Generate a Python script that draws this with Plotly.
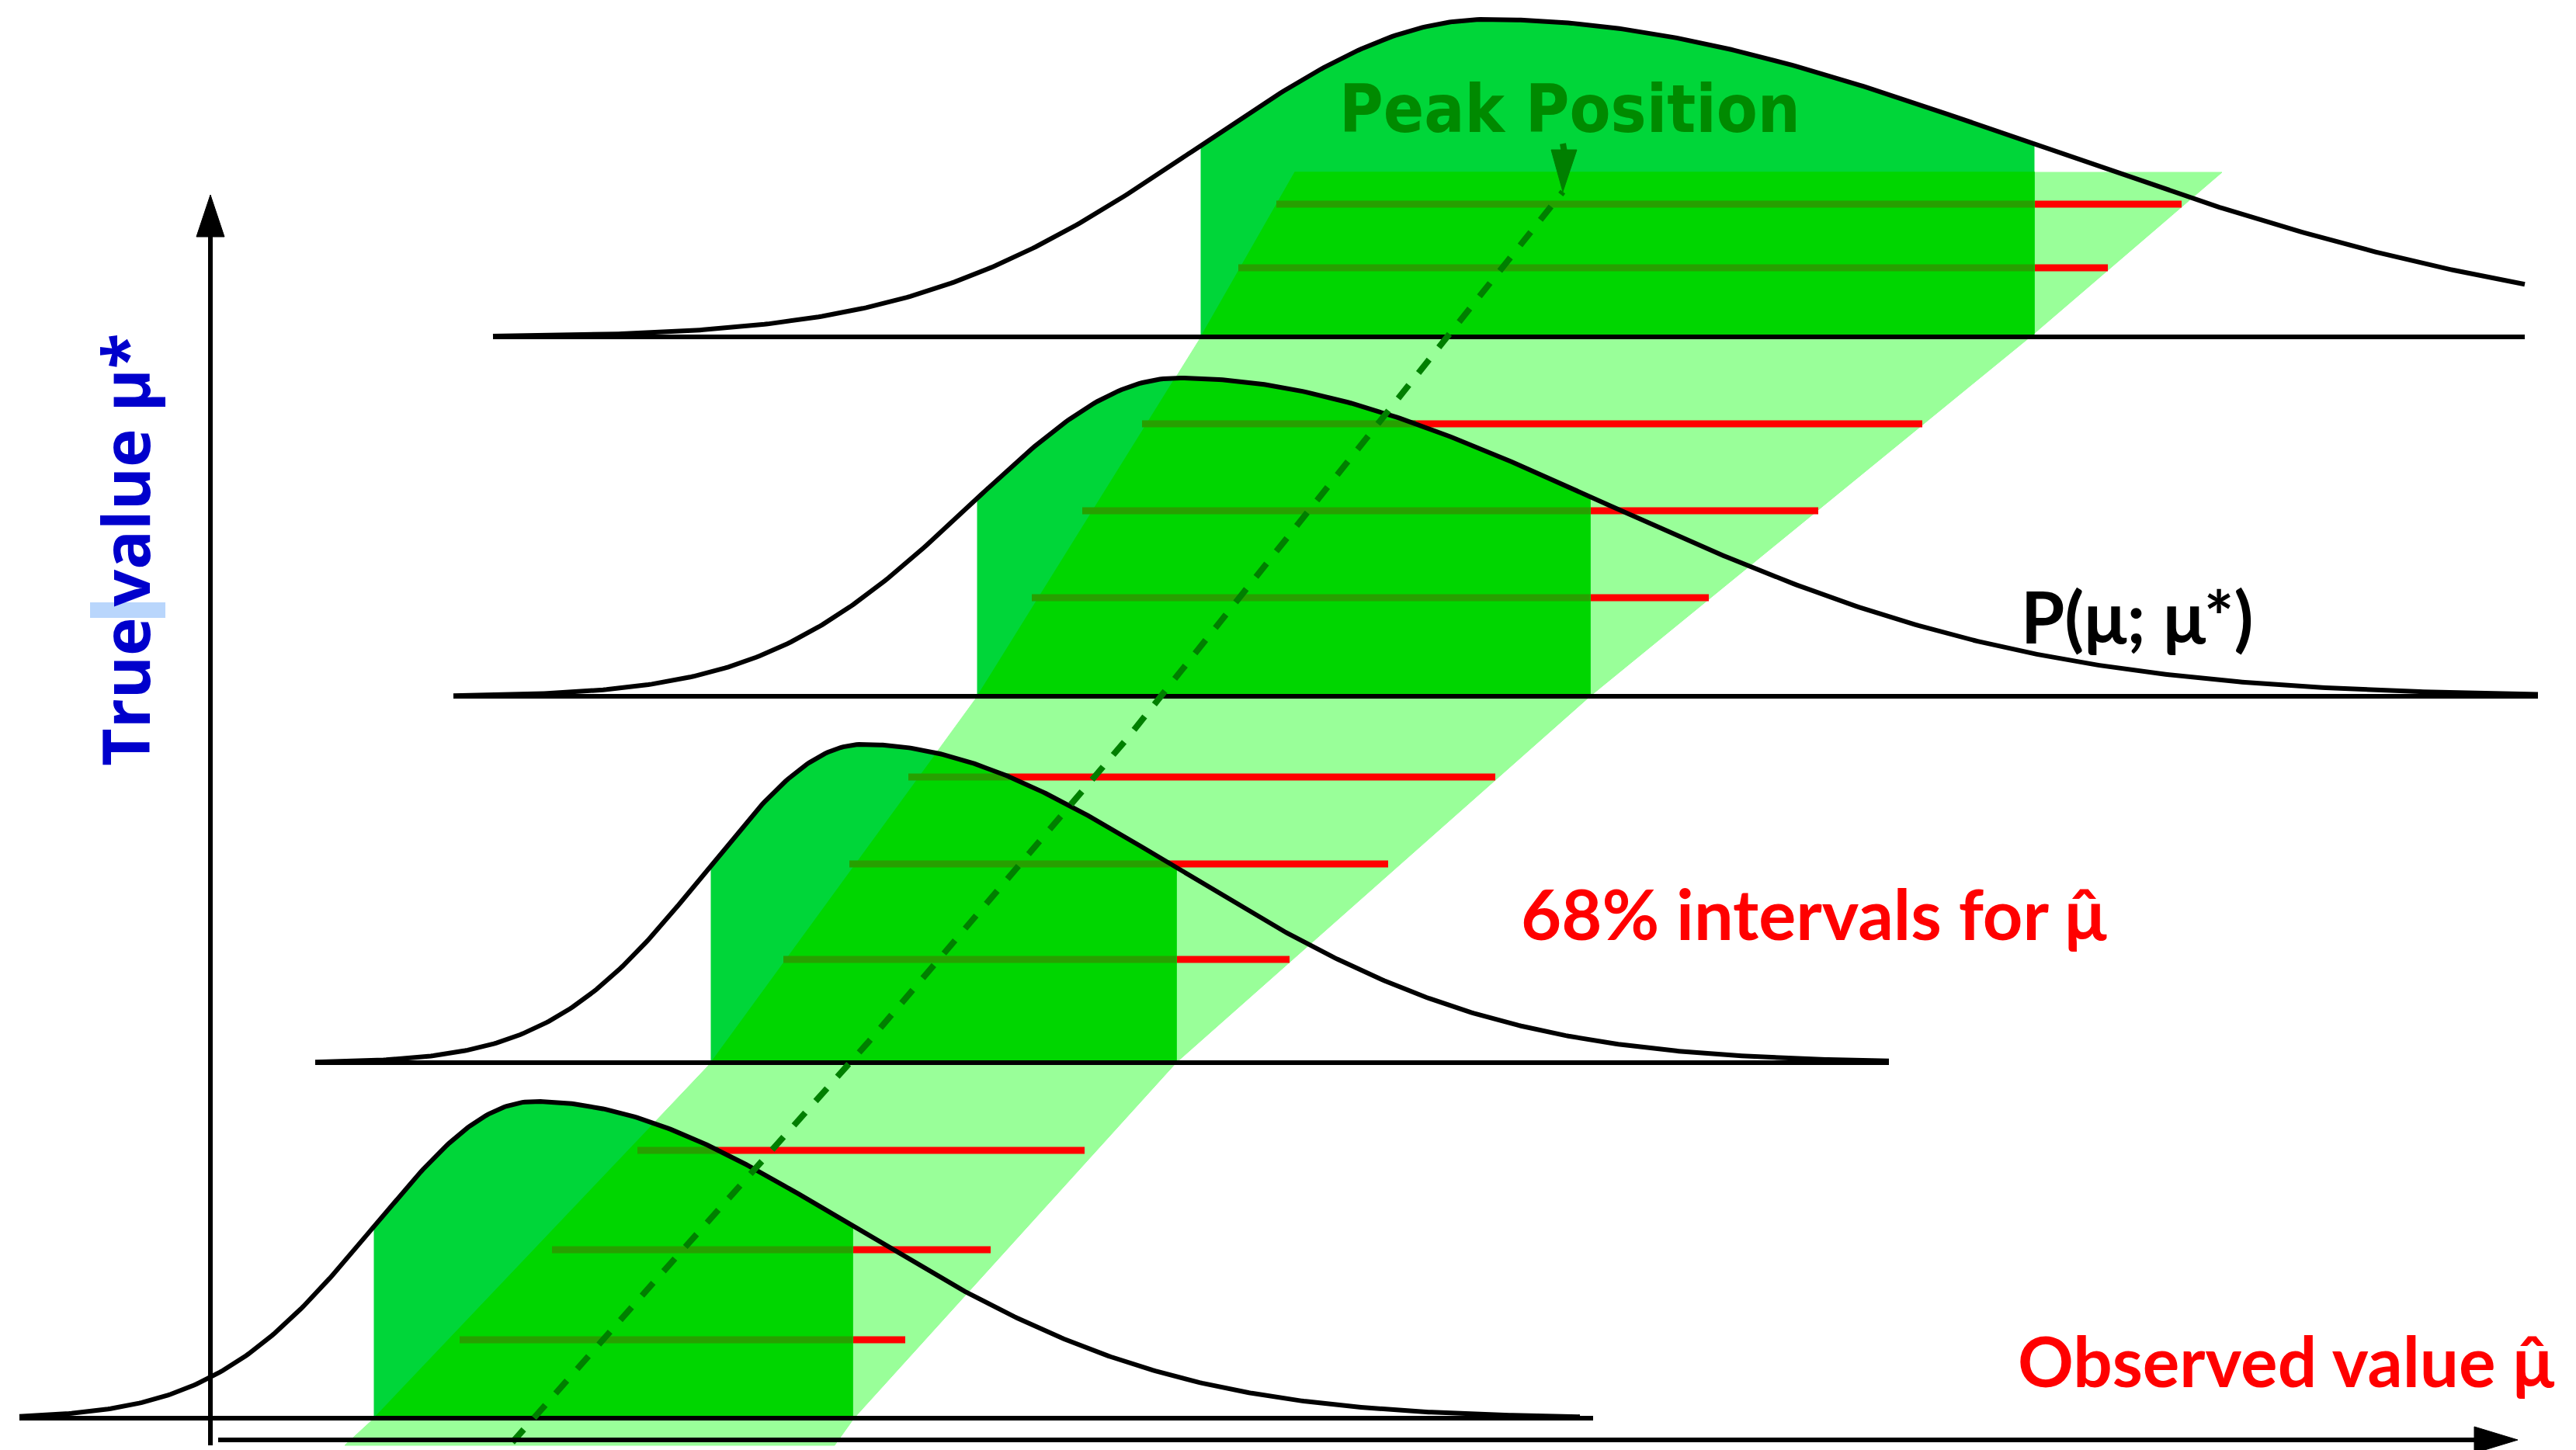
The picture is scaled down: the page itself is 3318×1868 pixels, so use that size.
import numpy as np
import plotly.graph_objects as go

W, H = 3318, 1868

# Skewed response curves P(mu; mu*), one per true value mu* (bottom to top)
base_y   = [1827, 1369, 897, 434]
base_x0  = [25, 406, 584, 635]
base_x1  = [2052, 2433, 3269, 3252]
curve_x0 = [25, 406, 584, 635]
curve_x1 = [2035, 2433, 3269, 3252]
peak_x   = [688, 1111, 1517, 1915]
peak_h   = [408, 410, 410, 409]
sigma_l  = [206, 200, 265, 366]
sigma_r  = [410, 408, 550, 705]

# 68% interval on mu-hat for each curve
int_lo = [482, 916, 1259, 1547]
int_hi = [1098, 1515, 2048, 2620]

# Confidence belt outline, shared y levels (bottom to top)
belt_y  = [1862, 1827, 1369, 897, 434, 222]
belt_lo = [444, 482, 916, 1259, 1547, 1668]
belt_hi = [1075, 1100, 1515, 2048, 2615, 2862]

# Horizontal interval lines and the curve each one sits on
seg_y     = [1482, 1610, 1726, 1001, 1113, 1236, 546, 658, 770, 263, 345]
seg_x0    = [821, 711, 592, 1170, 1094, 1009, 1471, 1394, 1329, 1644, 1595]
seg_x1    = [1397, 1276, 1166, 1926, 1788, 1661, 2476, 2342, 2201, 2810, 2715]
seg_curve = [0, 0, 0, 1, 1, 1, 2, 2, 2, 3, 3]

# Peak position trace (dashed)
peak_line_x = [660, 850, 1118, 1453, 2013]
peak_line_y = [1858, 1643, 1343, 950, 247]

# Axes
y_axis_x, y_axis_bottom, y_axis_tip = 271, 1862, 251
x_axis_y, x_axis_left, x_axis_tip = 1855, 281, 3243

BAND = "#99FF99"
FILL_OUT = "#00D639"
FILL_IN = "#00D600"
RED = "#FF0000"
OLIVE = "#27A000"
DASH_GREEN = "#007F00"
TEXT_GREEN = "#008A00"


def curve(k, x):
    x = np.asarray(x, dtype=float)
    s = np.where(x < peak_x[k], sigma_l[k], sigma_r[k])
    return base_y[k] - peak_h[k] * np.exp(-0.5 * ((x - peak_x[k]) / s) ** 2)


def signed_area(poly):
    a = 0.0
    for i in range(len(poly)):
        x1, y1 = poly[i]
        x2, y2 = poly[(i + 1) % len(poly)]
        a += x1 * y2 - x2 * y1
    return a / 2


def clip_polygon(subject, clip):
    """Sutherland-Hodgman clipping against a convex polygon."""
    sgn = 1 if signed_area(clip) > 0 else -1

    def inside(p, a, b):
        return sgn * ((b[0] - a[0]) * (p[1] - a[1]) - (b[1] - a[1]) * (p[0] - a[0])) >= 0

    def cross_pt(p, q, a, b):
        x1, y1 = p; x2, y2 = q; x3, y3 = a; x4, y4 = b
        d = (x1 - x2) * (y3 - y4) - (y1 - y2) * (x3 - x4)
        if d == 0:
            return q
        t = ((x1 - x3) * (y3 - y4) - (y1 - y3) * (x3 - x4)) / d
        return (x1 + t * (x2 - x1), y1 + t * (y2 - y1))

    out = list(subject)
    for i in range(len(clip)):
        a, b = clip[i], clip[(i + 1) % len(clip)]
        inp, out = out, []
        if not inp:
            break
        s = inp[-1]
        for e in inp:
            if inside(e, a, b):
                if not inside(s, a, b):
                    out.append(cross_pt(s, e, a, b))
                out.append(e)
            elif inside(s, a, b):
                out.append(cross_pt(s, e, a, b))
            s = e
    return out


def closed(poly):
    xs = [p[0] for p in poly] + [poly[0][0]]
    ys = [p[1] for p in poly] + [poly[0][1]]
    return xs, ys


fig = go.Figure()

# Confidence belt
bx = belt_lo + belt_hi[::-1]
by = belt_y + belt_y[::-1]
fig.add_trace(go.Scatter(x=bx + [bx[0]], y=by + [by[0]], fill="toself", fillcolor=BAND,
                         mode="lines", line=dict(color=BAND, width=1), hoverinfo="skip"))

# Interval lines (red)
rx, ry = [], []
for y, a, b in zip(seg_y, seg_x0, seg_x1):
    rx += [a, b, None]
    ry += [y, y, None]
fig.add_trace(go.Scatter(x=rx, y=ry, mode="lines", line=dict(color=RED, width=9), hoverinfo="skip"))

# 68% area under each curve, and its overlap with the belt
strips = []
for i in range(len(belt_y) - 1):
    strips.append([(belt_lo[i], belt_y[i]), (belt_hi[i], belt_y[i]),
                   (belt_hi[i + 1], belt_y[i + 1]), (belt_lo[i + 1], belt_y[i + 1])])

for k in range(4):
    xs = np.linspace(int_lo[k], int_hi[k], 240)
    ys = curve(k, xs)
    poly = [(int_lo[k], base_y[k])] + list(zip(xs, ys)) + [(int_hi[k], base_y[k])]
    px, py = closed(poly)
    fig.add_trace(go.Scatter(x=px, y=py, fill="toself", fillcolor=FILL_OUT, mode="lines",
                             line=dict(color=FILL_OUT, width=1), hoverinfo="skip"))
    for strip in strips:
        piece = clip_polygon(poly, strip)
        if len(piece) >= 3:
            qx, qy = closed(piece)
            fig.add_trace(go.Scatter(x=qx, y=qy, fill="toself", fillcolor=FILL_IN, mode="lines",
                                     line=dict(color=FILL_IN, width=1.5), hoverinfo="skip"))

# Portions of interval lines covered by the shaded area
ox, oy = [], []
for y, a, b, k in zip(seg_y, seg_x0, seg_x1, seg_curve):
    xs = np.linspace(a, b, 2000)
    m = (xs >= int_lo[k]) & (xs <= int_hi[k]) & (curve(k, xs) <= y) & (y <= base_y[k])
    if m.any():
        ox += [xs[m].min(), xs[m].max(), None]
        oy += [y, y, None]
fig.add_trace(go.Scatter(x=ox, y=oy, mode="lines", line=dict(color=OLIVE, width=9), hoverinfo="skip"))

# Curves
for k in range(4):
    xs = np.linspace(curve_x0[k], curve_x1[k], 600)
    fig.add_trace(go.Scatter(x=xs, y=curve(k, xs), mode="lines",
                             line=dict(color="black", width=6), hoverinfo="skip"))

# Baselines
lx, ly = [], []
for k in range(4):
    lx += [base_x0[k], base_x1[k], None]
    ly += [base_y[k], base_y[k], None]
fig.add_trace(go.Scatter(x=lx, y=ly, mode="lines", line=dict(color="black", width=6), hoverinfo="skip"))

# Peak position trace and its pointer
fig.add_trace(go.Scatter(x=peak_line_x, y=peak_line_y, mode="lines",
                         line=dict(color=DASH_GREEN, width=8, dash="22px,20px"), hoverinfo="skip"))
tip_x, tip_y = peak_line_x[-1], peak_line_y[-1]
fig.add_trace(go.Scatter(x=[tip_x, tip_x + 3], y=[tip_y - 62, tip_y - 45], mode="lines",
                         line=dict(color=DASH_GREEN, width=8), hoverinfo="skip"))
fig.add_trace(go.Scatter(x=[tip_x, tip_x - 15, tip_x + 18, tip_x], y=[tip_y, tip_y - 54, tip_y - 54, tip_y],
                         fill="toself", fillcolor=DASH_GREEN, mode="lines",
                         line=dict(color=DASH_GREEN, width=1), hoverinfo="skip"))

# Axes with arrowheads
fig.add_trace(go.Scatter(x=[y_axis_x, y_axis_x], y=[y_axis_bottom, y_axis_tip + 50], mode="lines",
                         line=dict(color="black", width=6), hoverinfo="skip"))
fig.add_trace(go.Scatter(x=[y_axis_x, y_axis_x - 18, y_axis_x + 18, y_axis_x],
                         y=[y_axis_tip, y_axis_tip + 54, y_axis_tip + 54, y_axis_tip],
                         fill="toself", fillcolor="black", mode="lines",
                         line=dict(color="black", width=1), hoverinfo="skip"))
fig.add_trace(go.Scatter(x=[x_axis_left, x_axis_tip - 50], y=[x_axis_y, x_axis_y], mode="lines",
                         line=dict(color="black", width=6), hoverinfo="skip"))
fig.add_trace(go.Scatter(x=[x_axis_tip, x_axis_tip - 56, x_axis_tip - 56, x_axis_tip],
                         y=[x_axis_y, x_axis_y - 17, x_axis_y + 17, x_axis_y],
                         fill="toself", fillcolor="black", mode="lines",
                         line=dict(color="black", width=1), hoverinfo="skip"))

# Text-cursor highlight on the vertical label
fig.add_shape(type="rect", x0=116, x1=213, y0=776, y1=796, xref="x", yref="y",
              fillcolor="#B9D6FC", line=dict(width=0), layer="below")

ann = [
    dict(x=2022, y=140, text="<b>Peak Position</b>",
         font=dict(family="DejaVu Sans Condensed, Liberation Sans Narrow, sans-serif", size=86, color=TEXT_GREEN)),
    dict(x=2753, y=793, text="<b>P(μ; μ*)</b>",
         font=dict(family="Lato, sans-serif", size=91, color="black")),
    dict(x=2336, y=1176, text="<b>68% intervals for μ̂</b>",
         font=dict(family="Lato, sans-serif", size=90, color=RED)),
    dict(x=2944, y=1752, text="<b>Observed value μ̂</b>",
         font=dict(family="Lato, sans-serif", size=89, color=RED)),
    dict(x=160, y=708, text="<b>True\u2009value μ*</b>", textangle=-90,
         font=dict(family="Open Sans, sans-serif", size=84, color="#0000CC")),
]
for a in ann:
    fig.add_annotation(xref="x", yref="y", showarrow=False, xanchor="center", yanchor="middle", **a)

fig.update_layout(
    width=W, height=H, margin=dict(l=0, r=0, t=0, b=0),
    paper_bgcolor="white", plot_bgcolor="white", showlegend=False,
    xaxis=dict(range=[0, W], visible=False, fixedrange=True),
    yaxis=dict(range=[H, 0], visible=False, fixedrange=True),
)

fig.write_html("out.html")
